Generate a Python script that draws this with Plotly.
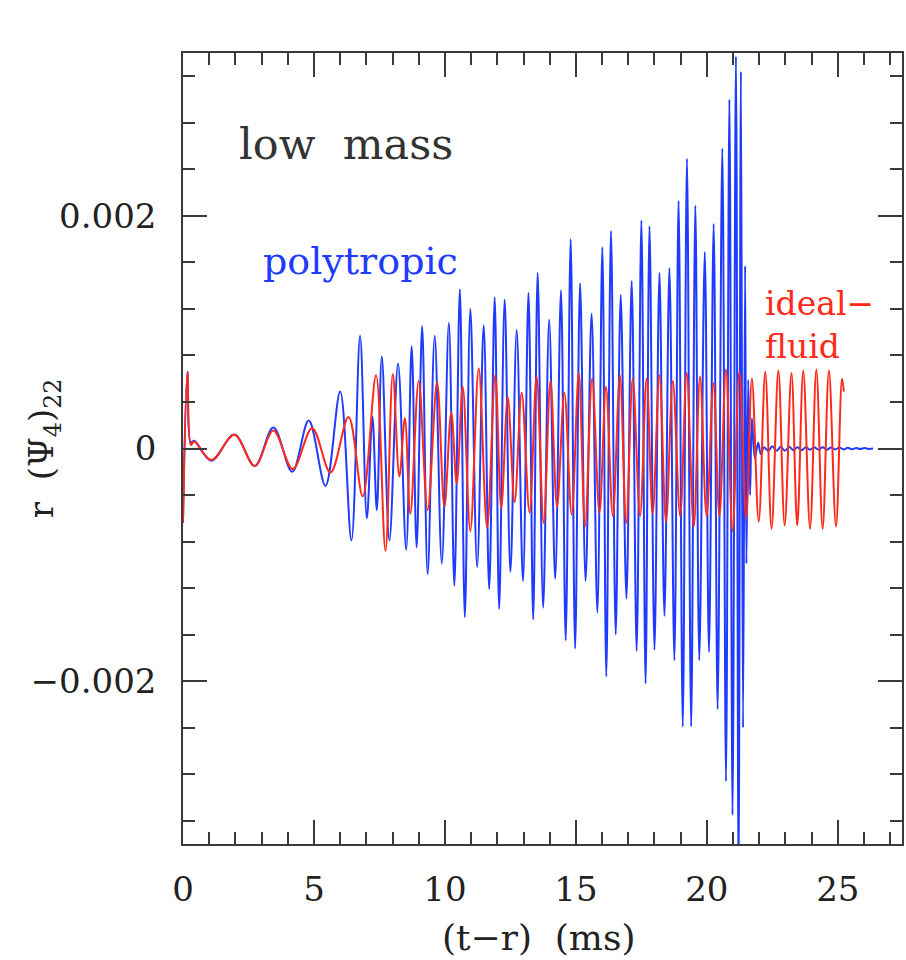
import plotly.graph_objects as go

# ---- data (extrema) ----
t_poly = [0.00, 0.17, 0.30, 0.43, 1.08, 1.96, 2.74, 3.45, 4.17, 4.80, 5.44, 6.00, 6.43, 6.76, 7.02, 7.23,
          7.40, 7.59, 7.88, 8.21, 8.52, 8.73, 8.92, 9.13, 9.34, 9.61, 9.88, 10.15, 10.36, 10.57, 10.76,
          10.97, 11.23, 11.48, 11.69, 11.90, 12.07, 12.28, 12.50, 12.74, 12.98, 13.19, 13.37, 13.54,
          13.75, 13.98, 14.21, 14.43, 14.61, 14.80, 14.97, 15.16, 15.37, 15.60, 15.82, 16.01, 16.16,
          16.34, 16.52, 16.71, 16.93, 17.13, 17.32, 17.50, 17.66, 17.81, 18.00, 18.19, 18.38, 18.57,
          18.76, 18.92, 19.08, 19.24, 19.40, 19.56, 19.71, 19.92, 20.08, 20.26, 20.41, 20.59, 20.73,
          20.86, 20.98, 21.11, 21.21, 21.30, 21.38, 21.46, 21.51, 21.58, 21.65, 21.72, 21.83, 21.96,
          22.06, 22.18, 22.34, 22.50, 22.66, 22.82, 22.98, 23.14, 23.30, 23.46, 23.62, 23.78, 23.94,
          24.10, 24.26, 24.42, 24.58, 24.74, 24.90, 25.06, 25.22, 25.38, 25.54, 25.70, 25.86, 26.02,
          26.18, 26.35]
v_poly = [-0.00062, 0.00066, 0.00005, 0.000066, -0.000105, 0.00012, -0.00015, 0.00018, -0.0002, 0.00024,
          -0.00032, 0.00049, -0.00079, 0.00097, -0.0006, 0.000275, -0.00053, 0.00079, -0.00079, 0.00073,
          -0.00087, 0.00088, -0.00085, 0.00105, -0.00108, 0.00097, -0.00099, 0.00108, -0.00118, 0.00137,
          -0.00145, 0.0012, -0.00102, 0.00106, -0.00121, 0.0013, -0.00138, 0.00128, -0.00106, 0.00102,
          -0.00114, 0.00134, -0.00147, 0.00151, -0.00137, 0.00111, -0.00112, 0.00136, -0.00165, 0.0018,
          -0.00172, 0.00142, -0.00114, 0.00116, -0.00141, 0.00173, -0.00196, 0.00187, -0.0016, 0.00132,
          -0.00129, 0.00144, -0.00174, 0.00196, -0.00202, 0.00191, -0.00173, 0.00151, -0.00144, 0.00155,
          -0.00182, 0.00213, -0.00239, 0.00249, -0.00239, 0.00209, -0.00182, 0.00169, -0.00175, 0.00193,
          -0.00224, 0.00258, -0.00286, 0.0030, -0.00315, 0.00337, -0.0037, 0.00324, -0.0024, 0.00157,
          -0.00099, 0.00059, -0.0004, 0.00026, -0.00008, 0.00005, -0.00005, 0.00001, -0.00002, 0.00002,
          -0.00002, 0.000015, -0.00002, 0.000015, -0.000015, 0.00001, -0.000015, 0.00001, -0.00001,
          0.00001, -0.00001, 0.00001, -0.00001, 0.000008, -0.000008, 0.000008, -0.000008, 0.000006,
          -0.000006, 0.000005, -0.000005, 0.000004, -0.000004, 0.0]

t_ideal = [0.00, 0.17, 0.30, 0.43, 1.08, 1.96, 2.74, 3.45, 4.19, 4.93, 5.63, 6.32, 6.86, 7.37, 7.73, 8.01,
           8.26, 8.47, 8.68, 9.00, 9.34, 9.70, 9.98, 10.24, 10.45, 10.68, 10.97, 11.29, 11.61, 11.92,
           12.15, 12.40, 12.66, 12.93, 13.23, 13.50, 13.77, 14.03, 14.28, 14.56, 14.84, 15.11, 15.35,
           15.62, 15.90, 16.15, 16.41, 16.68, 16.92, 17.17, 17.45, 17.70, 17.93, 18.19, 18.44, 18.70,
           18.98, 19.23, 19.50, 19.74, 19.99, 20.25, 20.48, 20.73, 20.98, 21.24, 21.50, 21.72, 21.98,
           22.23, 22.47, 22.73, 22.97, 23.23, 23.45, 23.68, 23.94, 24.18, 24.42, 24.66, 24.93, 25.16,
           25.23]
v_ideal = [-0.00064, 0.00066, 0.00003, 0.00006, -0.0001, 0.000118, -0.00015, 0.000155, -0.000177, 0.000175,
           -0.000206, 0.00027, -0.00041, 0.00063, -0.00088, 0.00064, -0.00024, 0.00026, -0.00056, 0.00058,
           -0.00053, 0.00057, -0.0005, 0.00031, -0.0003, 0.00053, -0.00071, 0.00069, -0.00068, 0.00063,
           -0.00051, 0.00044, -0.00046, 0.00048, -0.00055, 0.00062, -0.00064, 0.00058, -0.0005, 0.00048,
           -0.00057, 0.00065, -0.00067, 0.0006, -0.00055, 0.00053, -0.00058, 0.00063, -0.00064, 0.0006,
           -0.00058, 0.0006, -0.00056, 0.00063, -0.00063, 0.00058, -0.00058, 0.00065, -0.00067, 0.00062,
           -0.00058, 0.00056, -0.00058, 0.00068, -0.00071, 0.00066, -0.0006, 0.0006, -0.00063, 0.00066,
           -0.00069, 0.00067, -0.00066, 0.00065, -0.00066, 0.00067, -0.00069, 0.00068, -0.00069, 0.00067,
           -0.00067, 0.0006, 0.00049]

x_tickvals = [0, 5, 10, 15, 20, 25]
x_ticktext = ["0", "5", "10", "15", "20", "25"]
y_tickvals = [-0.002, 0, 0.002]
y_ticktext = ["\u22120.002", "0", "0.002"]

FONT = "DejaVu Serif"
TXT = "#222222"
AX = "#3a3a3a"
BLUE = "#1f3bff"
RED = "#ff2a1a"

fig = go.Figure()
fig.add_trace(go.Scatter(x=t_poly, y=v_poly, mode="lines",
                         line=dict(color=BLUE, width=2, shape="spline", smoothing=1.0),
                         name="polytropic", showlegend=False))
fig.add_trace(go.Scatter(x=t_ideal, y=v_ideal, mode="lines",
                         line=dict(color=RED, width=2, shape="spline", smoothing=1.0),
                         name="ideal-fluid", showlegend=False))

axis_common = dict(showline=True, linecolor=AX, linewidth=1.5, mirror="allticks",
                   ticks="inside", ticklen=24, tickwidth=1.5, tickcolor=AX,
                   showgrid=False, zeroline=False,
                   tickfont=dict(family=FONT, size=34, color=TXT))

fig.update_layout(
    width=906, height=960,
    margin=dict(l=183, r=2, t=53, b=116),
    paper_bgcolor="white", plot_bgcolor="white",
    xaxis=dict(range=[0, 27.45], tickmode="array", tickvals=x_tickvals, ticktext=x_ticktext,
               minor=dict(tickmode="linear", tick0=0, dtick=1, ticks="inside", ticklen=12,
                          tickwidth=1.5, tickcolor=AX),
               ticklabelstandoff=14, **axis_common),
    yaxis=dict(range=[-0.0034, 0.0034], tickmode="array", tickvals=y_tickvals, ticktext=y_ticktext,
               minor=dict(tickmode="linear", tick0=0, dtick=0.0004, ticks="inside", ticklen=12,
                          tickwidth=1.5, tickcolor=AX),
               ticklabelstandoff=18, **axis_common),
)

ann = [
    dict(text="low\u00a0\u00a0mass", x=2.08, y=0.002617, xanchor="left", yanchor="middle",
         font=dict(family=FONT, size=43, color="#333333")),
    dict(text="polytropic", x=2.98, y=0.001609, xanchor="left", yanchor="middle",
         font=dict(family=FONT, size=38, color=BLUE)),
    dict(text="ideal\u2212<br>fluid", x=22.15, y=0.001065, xanchor="left", yanchor="middle",
         align="left", font=dict(family=FONT, size=33, color=RED)),
]
for a in ann:
    fig.add_annotation(xref="x", yref="y", showarrow=False, **a)

fig.add_annotation(xref="paper", yref="paper", x=0.4948, y=-0.1176, xanchor="center", yanchor="middle",
                   showarrow=False, text="(t\u2212r)\u00a0\u00a0(ms)",
                   font=dict(family=FONT, size=36, color=TXT))
fig.add_annotation(xref="paper", yref="paper", x=-0.1936, y=0.5002, xanchor="center", yanchor="middle",
                   showarrow=False, textangle=-90,
                   text="r\u00a0\u00a0(\u03a8<sub>4</sub>)<sub>22</sub>",
                   font=dict(family=FONT, size=34, color=TXT))

fig.write_html("out.html")
